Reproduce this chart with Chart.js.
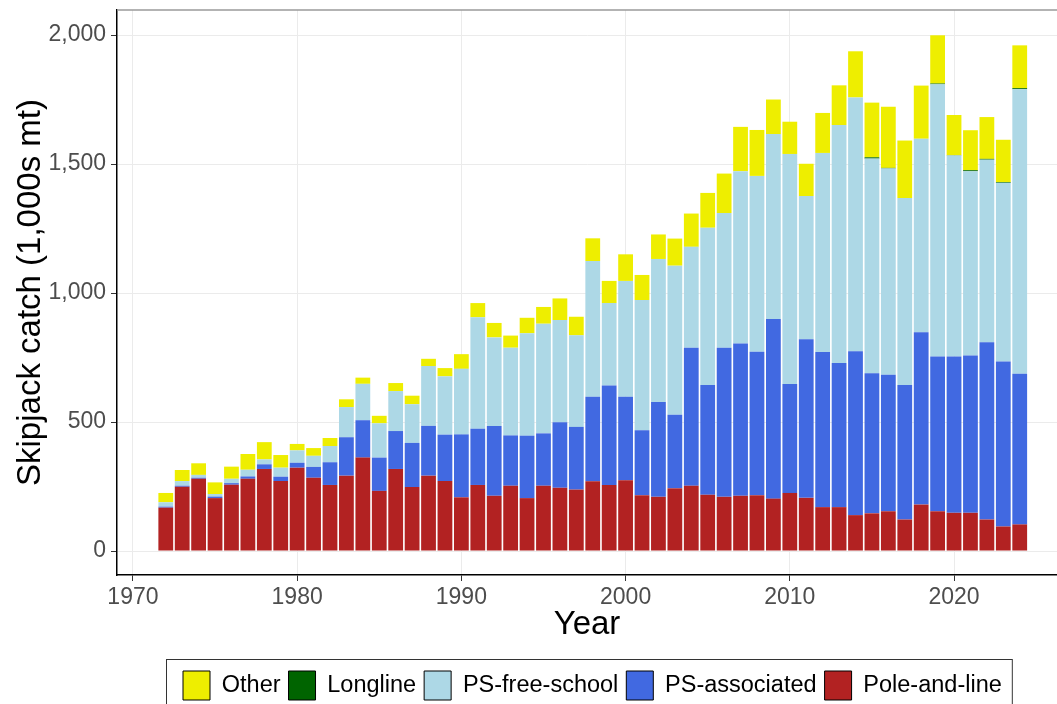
<!DOCTYPE html>
<html>
<head>
<meta charset="utf-8">
<script src="https://cdn.jsdelivr.net/npm/chart.js@4.4.1/dist/chart.umd.min.js"></script>
<style>
    html, body { margin: 0; padding: 0; background: #fff; }
    #wrap { width: 1057px; height: 704px; overflow: hidden; }
</style>
</head>
<body>
<div id="wrap"><canvas id="catchChart" width="1057" height="704"></canvas></div>
<script>
// Skipjack catch by gear (1,000s mt)
const years = [
    1972, 1973, 1974, 1975, 1976, 1977, 1978, 1979, 1980, 1981,
    1982, 1983, 1984, 1985, 1986, 1987, 1988, 1989, 1990, 1991,
    1992, 1993, 1994, 1995, 1996, 1997, 1998, 1999, 2000, 2001,
    2002, 2003, 2004, 2005, 2006, 2007, 2008, 2009, 2010, 2011,
    2012, 2013, 2014, 2015, 2016, 2017, 2018, 2019, 2020, 2021,
    2022, 2023, 2024
];
const poleAndLine = [
    168, 249, 280, 205, 257, 280, 318, 271, 323, 284,
    256, 292, 362, 233, 318, 248, 292, 271, 208, 256,
    214, 253, 205, 253, 245, 238, 270, 256, 274, 216,
    210, 243, 253, 218, 210, 214, 216, 203, 225, 206,
    170, 170, 139, 146, 154, 122, 180, 154, 148, 148,
    122, 95, 103
];
const psAssociated = [
    4, 4, 4, 6, 6, 9, 18, 17, 19, 42,
    88, 149, 145, 129, 147, 171, 193, 180, 244, 218,
    271, 195, 242, 203, 254, 243, 328, 386, 324, 252,
    368, 285, 535, 425, 578, 590, 556, 696, 422, 615,
    601, 559, 635, 543, 529, 521, 668, 600, 606, 610,
    687, 640, 584
];
const psFreeSchool = [
    17, 18, 11, 10, 17, 26, 19, 35, 48, 43,
    63, 117, 141, 133, 155, 150, 232, 226, 254, 432,
    343, 340, 397, 425, 396, 355, 526, 319, 449, 505,
    554, 578, 391, 610, 522, 668, 682, 717, 892, 555,
    772, 922, 984, 832, 800, 725, 750, 1055, 779, 714,
    708, 692, 1103
];
const longline = [
    0, 0, 0, 0, 0, 0, 0, 0, 0, 0,
    0, 0, 0, 0, 0, 0, 0, 0, 0, 0,
    0, 0, 0, 0, 0, 0, 0, 0, 0, 0,
    0, 0, 0, 0, 0, 0, 0, 0, 0, 0,
    0, 0, 0, 5, 2, 0, 0, 3, 1, 4,
    3, 3, 4
];
const other = [
    36, 43, 45, 45, 47, 61, 67, 49, 25, 30,
    31, 30, 24, 29, 31, 33, 28, 32, 57, 55,
    56, 47, 60, 65, 84, 72, 88, 86, 103, 97,
    95, 105, 129, 135, 153, 172, 178, 134, 125, 125,
    155, 154, 179, 212, 237, 223, 206, 187, 156, 155,
    162, 164, 166
];
const xTicks = [1970, 1980, 1990, 2000, 2010, 2020];
const yTicks = [0, 500, 1000, 1500, 2000];

const FONT = "'Liberation Sans', Arial, sans-serif";

function points(values) {
    return values.map((v, i) => ({ x: years[i], y: v }));
}

function noScalePadding(scale) {
    scale.paddingTop = 0;
    scale.paddingBottom = 0;
    scale.paddingLeft = 0;
    scale.paddingRight = 0;
}

// ggplot-like extras: grey top border line, legend moved under the panel, legend frame
const ggExtras = {
    id: 'ggExtras',
    afterLayout(chart) {
        const lg = chart.legend;
        if (!lg || !lg.lineWidths) return;
        const pad = lg.options.labels.padding;
        const startNow = (lg.left + pad + lg.right - lg.lineWidths[0]) / 2;
        const shift = 183 - startNow;
        lg.left += shift;
        lg.right += shift;
        const h = lg.bottom - lg.top;
        lg.top = 671 - pad;
        lg.bottom = lg.top + h;
    },
    afterDraw(chart) {
        const { ctx, chartArea } = chart;
        ctx.save();
        ctx.strokeStyle = '#9a9a9a';
        ctx.lineWidth = 1.5;
        ctx.beginPath();
        ctx.moveTo(chartArea.left, chartArea.top);
        ctx.lineTo(chartArea.right, chartArea.top);
        ctx.stroke();

        const lg = chart.legend;
        const pad = lg.options.labels.padding;
        const x0 = 183 - 17;
        const x1 = 183 + lg.lineWidths[0] - pad + 10;
        ctx.strokeStyle = '#333';
        ctx.lineWidth = 1;
        ctx.strokeRect(x0 + 0.5, 659.5, x1 - x0, 60);
        ctx.restore();
    }
};

new Chart(document.getElementById('catchChart'), {
    type: 'bar',
    data: {
        datasets: [
            { label: 'Pole-and-line', data: points(poleAndLine), backgroundColor: '#B22222' },
            { label: 'PS-associated', data: points(psAssociated), backgroundColor: '#4169E1' },
            { label: 'PS-free-school', data: points(psFreeSchool), backgroundColor: '#ADD8E6' },
            { label: 'Longline', data: points(longline), backgroundColor: '#006400' },
            { label: 'Other', data: points(other), backgroundColor: '#EEEE00' }
        ]
    },
    options: {
        responsive: false,
        animation: false,
        devicePixelRatio: 1,
        categoryPercentage: 1,
        barPercentage: 0.9,
        layout: { padding: { top: 10, left: 0, right: 0, bottom: 0 } },
        plugins: {
            tooltip: { enabled: false },
            legend: {
                position: 'bottom',
                reverse: true,
                labels: {
                    boxWidth: 27,
                    boxHeight: 29,
                    padding: 8,
                    color: '#000',
                    font: { family: FONT, size: 23.5 },
                    generateLabels(chart) {
                        const items = Chart.defaults.plugins.legend.labels.generateLabels(chart);
                        items.forEach(it => { it.strokeStyle = '#000'; it.lineWidth = 1; });
                        return items;
                    }
                }
            }
        },
        scales: {
            x: {
                type: 'linear',
                stacked: true,
                offset: false,
                min: 1969.03,
                max: 2026.27,
                afterBuildTicks: (scale) => { scale.ticks = xTicks.map(v => ({ value: v })); },
                afterFit: (scale) => {
                    noScalePadding(scale);
                    scale.height = 704 - 575 - scale.chart.legend.height;
                },
                grid: { offset: false, color: '#ebebeb', lineWidth: 1, tickColor: '#333', tickLength: 6 },
                border: { color: '#000', width: 1.5 },
                ticks: {
                    color: '#4d4d4d',
                    padding: 3,
                    maxRotation: 0,
                    font: { family: FONT, size: 23 },
                    callback: (v) => String(v)
                },
                title: {
                    display: true,
                    text: 'Year',
                    color: '#000',
                    font: { family: FONT, size: 33 },
                    padding: { top: 0, bottom: 12 }
                }
            },
            y: {
                stacked: true,
                min: -93,
                max: 2097,
                afterBuildTicks: (scale) => { scale.ticks = yTicks.map(v => ({ value: v })); },
                afterFit: (scale) => {
                    noScalePadding(scale);
                    scale.width = 117;
                },
                grid: { color: '#ebebeb', lineWidth: 1, tickColor: '#333', tickLength: 6 },
                border: { color: '#000', width: 1.5 },
                ticks: {
                    color: '#4d4d4d',
                    padding: 5,
                    font: { family: FONT, size: 23 },
                    callback: (v) => v.toLocaleString('en-US')
                },
                title: {
                    display: true,
                    text: 'Skipjack catch (1,000s mt)',
                    color: '#000',
                    font: { family: FONT, size: 33 },
                    padding: { top: 11, bottom: 0 }
                }
            }
        }
    },
    plugins: [ggExtras]
});
</script>
</body>
</html>
